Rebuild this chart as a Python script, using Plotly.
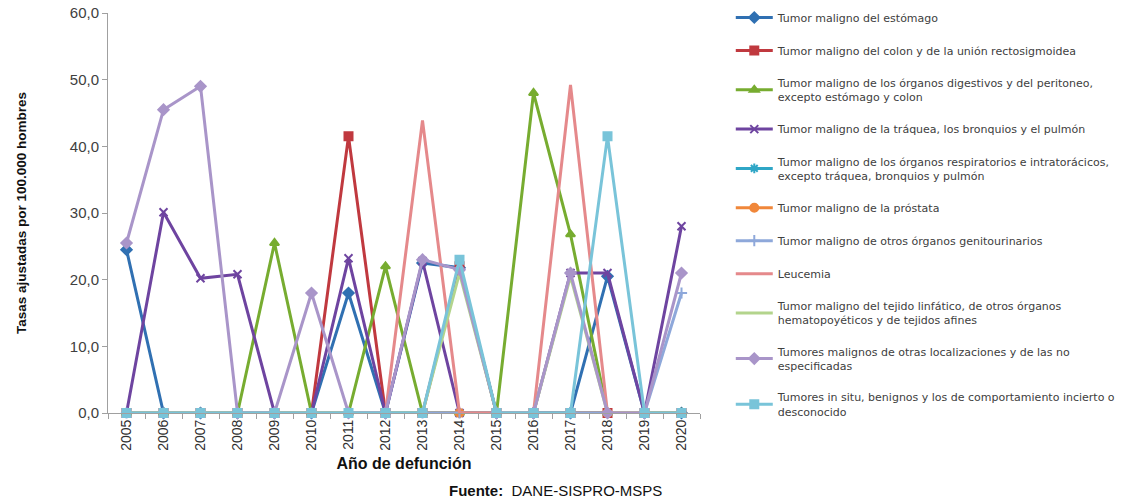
import plotly.graph_objects as go

years = [str(y) for y in range(2005, 2021)]

names = [
    "Tumor maligno del estómago",
    "Tumor maligno del colon y de la unión rectosigmoidea",
    "Tumor maligno de los órganos digestivos y del peritoneo,<br>excepto estómago y colon",
    "Tumor maligno de la tráquea, los bronquios y el pulmón",
    "Tumor maligno de los órganos respiratorios e intratorácicos,<br>excepto tráquea, bronquios y pulmón",
    "Tumor maligno de la próstata",
    "Tumor maligno de otros órganos genitourinarios",
    "Leucemia",
    "Tumor maligno del tejido linfático, de otros órganos<br>hematopoyéticos y de tejidos afines",
    "Tumores malignos de otras localizaciones y de las no<br>especificadas",
    "Tumores in situ, benignos y los de comportamiento incierto o<br>desconocido",
]

estomago =        [24.5, 0, 0, 0, 0, 0, 18.0, 0, 22.5, 21.8, 0, 0, 0, 20.5, 0, 0]
colon =           [0, 0, 0, 0, 0, 0, 41.5, 0, 0, 22.0, 0, 0, 0, 0, 0, 0]
digestivos =      [0, 0, 0, 0, 25.5, 0, 0, 22.0, 0, 0, 0, 48.0, 26.8, 0, 0, 0]
traquea =         [0, 30.1, 20.2, 20.8, 0, 0, 23.2, 0, 22.8, 0, 0, 0, 21.0, 21.0, 0, 28.0]
respiratorios =   [0] * 16
prostata =        [0] * 16
genitourinarios = [0, 0, 0, 0, 0, 0, 0, 0, 0, 0, 0, 0, 0, 0, 0, 18.0]
leucemia =        [0, 0, 0, 0, 0, 0, 0, 0, 43.9, 0, 0, 0, 49.2, 0, 0, 0]
linfatico =       [0, 0, 0, 0, 0, 0, 0, 0, 0, 21.0, 0, 0, 20.5, 0, 0, 0]
otras =           [25.5, 45.5, 49.0, 0, 0, 18.0, 0, 0, 23.0, 21.5, 0, 0, 21.0, 0, 0, 21.0]
in_situ =         [0, 0, 0, 0, 0, 0, 0, 0, 0, 23.0, 0, 0, 0, 41.5, 0, 0]

series = [estomago, colon, digestivos, traquea, respiratorios, prostata,
          genitourinarios, leucemia, linfatico, otras, in_situ]
colors = ["#3070B2", "#C0393F", "#77AC30", "#6E44A0", "#2FA6C6", "#F0873A",
          "#8EA8DA", "#E5898B", "#B3D48C", "#A995C9", "#79C4D9"]
symbols = ["diamond", "square", "triangle-up", "x-thin-open", "asterisk-open",
           "circle", "cross-thin-open", None, None, "diamond", "square"]

yticks = [0, 10, 20, 30, 40, 50, 60]
yticklabels = ["0,0", "10,0", "20,0", "30,0", "40,0", "50,0", "60,0"]

fig = go.Figure()
for i, (nm, vals, col, sym) in enumerate(zip(names, series, colors, symbols)):
    if sym is None:
        mode = "lines"
        marker = dict()
    else:
        mode = "lines+markers"
        marker = dict(symbol=sym, size=8, color=col, line=dict(color=col, width=2))
    fig.add_trace(go.Scatter(
        x=years, y=vals, name=nm, mode=mode,
        line=dict(color=col, width=3), marker=marker,
        legendgroup=f"g{i}", cliponaxis=False,
    ))

fig.update_layout(
    width=1142, height=503,
    margin=dict(l=108, r=442, t=13, b=90, autoexpand=False),
    paper_bgcolor="white", plot_bgcolor="white",
    font=dict(family="Liberation Sans, Arial, sans-serif", color="#404040"),
    showlegend=True,
    legend=dict(
        x=1.052, y=1.025, xanchor="left", yanchor="top",
        traceorder="grouped", tracegroupgap=14,
        font=dict(size=11, family="DejaVu Sans, sans-serif", color="#404040"),
        itemwidth=37, bgcolor="rgba(0,0,0,0)", maxheight=500,
    ),
    xaxis=dict(
        type="category", range=[-0.5, 15.5],
        showline=True, linecolor="#A0A0A0", linewidth=1,
        ticks="outside", tickson="boundaries", ticklen=5, tickcolor="#A0A0A0",
        tickangle=-90, tickfont=dict(size=14, color="#303030"),
        showgrid=False, zeroline=False,
        title=dict(text="<b>Año de defunción</b>", font=dict(size=16, color="#111111"), standoff=8),
    ),
    yaxis=dict(
        range=[0, 60], tickvals=yticks, ticktext=yticklabels,
        showline=True, linecolor="#A0A0A0", linewidth=1,
        ticks="outside", ticklen=5, tickcolor="#A0A0A0",
        tickfont=dict(size=15, color="#404040"),
        ticklabeloverflow="allow",
        showgrid=False, zeroline=False,
        title=dict(text="<b>Tasas ajustadas por 100.000 hombres</b>",
                   font=dict(size=13.5, color="#111111"),
                   standoff=40),
    ),
    annotations=[dict(
        text="<b>Fuente:</b>  DANE-SISPRO-MSPS", xref="paper", yref="paper",
        x=0.573, y=-0.193, xanchor="left", yanchor="middle", showarrow=False,
        font=dict(size=15, color="#111111"),
    )],
)

fig.write_html("out.html", config={"displayModeBar": False},
               post_script="document.body.style.margin='0';")
